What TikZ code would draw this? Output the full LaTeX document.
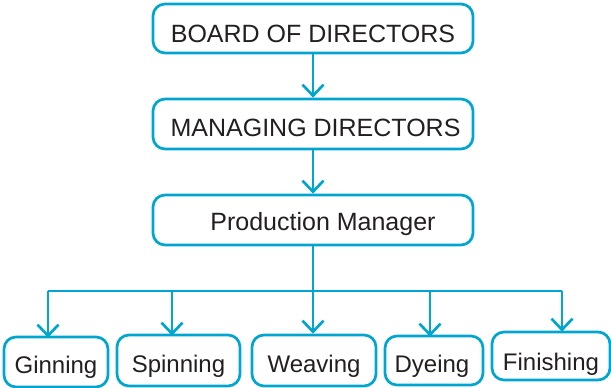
\documentclass[tikz,border=0pt]{standalone}
\usepackage{fontspec}
\setmainfont{Liberation Sans}
\usetikzlibrary{arrows.meta}
\definecolor{linec}{RGB}{0,166,207}
\definecolor{textc}{RGB}{35,31,32}
\tikzset{
  box/.style={draw=linec, line width=2.7pt, rounded corners=12pt, inner sep=0pt},
  lbl/.style={anchor=base, inner sep=0pt, text=textc},
  toptxt/.style={lbl, font=\fontsize{25}{30}\selectfont},
  bottxt/.style={lbl, font=\fontsize{24}{29}\selectfont},
  conn/.style={draw=linec, line width=2.7pt},
  arr/.style={conn, -{Straight Barb[length=11pt, width=21pt, line width=2.7pt]}},
}
\begin{document}
\begin{tikzpicture}[x=1pt, y=-1pt]
\useasboundingbox (0,0) rectangle (611,388);
% boxes
\node[box, minimum width=320pt, minimum height=49pt] (b1) at (313,28.5) {};
\node[box, minimum width=320pt, minimum height=50pt] (b2) at (313,124) {};
\node[box, minimum width=320pt, minimum height=50pt] (b3) at (313,220) {};
\node[box, minimum width=104pt, minimum height=50pt] (gin) at (56,362) {};
\node[box, minimum width=123pt, minimum height=51pt] (spi) at (178.5,360.5) {};
\node[box, minimum width=124pt, minimum height=51pt] (wea) at (314,360.5) {};
\node[box, minimum width=98pt, minimum height=49pt] (dye) at (434,360.5) {};
\node[box, minimum width=118pt, minimum height=48pt] (fin) at (551,356) {};
% texts
\node[toptxt] (t1) at (313,42) {BOARD OF DIRECTORS};
\node[toptxt] (t2) at (315.5,136) {MANAGING DIRECTORS};
\node[toptxt] (t3) at (323,230) {Production Manager};
\node[bottxt] (t4) at (56,373) {Ginning};
\node[bottxt] (t5) at (178.5,372) {Spinning};
\node[bottxt] (t6) at (314,372) {Weaving};
\node[bottxt] (t7) at (432,372) {Dyeing};
\node[bottxt] (t8) at (551,370) {Finishing};
% connectors
\draw[arr] (b1.south) -- (b2.north);
\draw[arr] (b2.south) -- (b3.north);
\coordinate (d1) at (48,291);
\coordinate (d2) at (172,291);
\coordinate (d3) at (430,291);
\coordinate (d4) at (562,291);
\draw[conn] (d1) -- (d4);
\draw[arr] (b3.south) -- (b3.south |- wea.north);
\draw[arr] (d1) -- ([yshift=-2pt]d1 |- gin.north);
\draw[arr] (d2) -- ([yshift=-2pt]d2 |- spi.north);
\draw[arr] (d3) -- ([yshift=-2pt]d3 |- dye.north);
\draw[arr] (d4) -- ([yshift=-1pt]d4 |- fin.north);
\end{tikzpicture}
\end{document}
